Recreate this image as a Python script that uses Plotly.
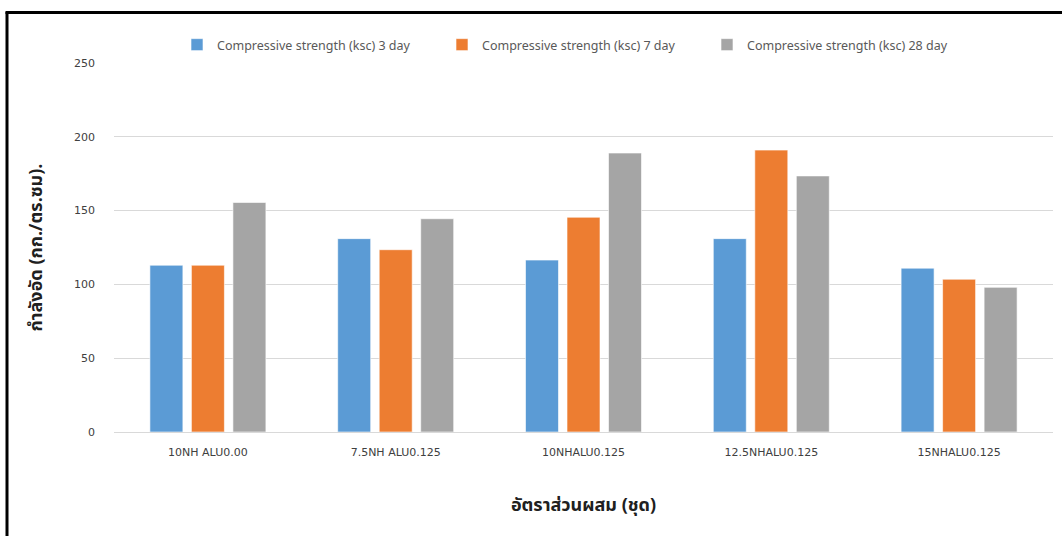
import plotly.graph_objects as go

# Mix designs (x categories)
mixes = ["10NH ALU0.00", "7.5NH ALU0.125", "10NHALU0.125", "12.5NHALU0.125", "15NHALU0.125"]

# Compressive strength (ksc) at each curing age
strength_3day = [113, 131, 116.5, 131, 111]
strength_7day = [113, 123.5, 145.5, 191, 103.5]
strength_28day = [155.5, 144.5, 189, 173.5, 98]

series_names = [
    "Compressive strength (ksc) 3 day",
    "Compressive strength (ksc) 7 day",
    "Compressive strength (ksc) 28 day",
]
series_colors = ["#5B9BD5", "#ED7D31", "#A5A5A5"]

y_ticks = [0, 50, 100, 150, 200, 250]

W, H = 1062, 536
L, R, T, B = 114, 9, 63, 104
pw, ph = W - L - R, H - T - B


def px_to_paper_x(px):
    return (px - L) / pw


def px_to_paper_y(py):
    return (H - B - py) / ph


fig = go.Figure()
for name, vals, col in zip(series_names, [strength_3day, strength_7day, strength_28day], series_colors):
    fig.add_trace(go.Bar(
        x=mixes, y=vals, name=name,
        marker=dict(color=col, line=dict(color="rgba(255,255,255,0.6)", width=1)),
    ))

tick_font = dict(family="DejaVu Sans, Tahoma, sans-serif", size=11, color="#404040")
thai_font = "Tahoma, 'Noto Sans Thai', 'Loma', 'Garuda', 'DejaVu Sans', sans-serif"

fig.update_layout(
    width=W, height=H,
    margin=dict(l=L, r=R, t=T, b=B, pad=0),
    paper_bgcolor="white", plot_bgcolor="white",
    barmode="group", bargap=0.337, bargroupgap=0.205,
    showlegend=True,
    legend=dict(
        orientation="h", x=px_to_paper_x(177), xanchor="left",
        y=px_to_paper_y(45), yanchor="middle",
        font=dict(family="Noto Sans, sans-serif", size=12.5, color="#595959"),
        entrywidth=220, entrywidthmode="pixels",
        itemwidth=30, traceorder="normal",
        bgcolor="rgba(0,0,0,0)",
    ),
    xaxis=dict(
        showgrid=False, showline=False, ticks="",
        tickfont=tick_font, ticklabelstandoff=12,
        title=dict(text="<b>อัตราส่วนผสม (ชุด)</b>",
                   font=dict(family=thai_font, size=18, color="#202020"),
                   standoff=40),
    ),
    yaxis=dict(
        range=[0, 250], tickvals=y_ticks, showgrid=True,
        gridcolor="#D9D9D9", gridwidth=1, zeroline=True,
        zerolinecolor="#D9D9D9", zerolinewidth=1, showline=False, ticks="",
        tickfont=tick_font, ticklabelstandoff=18,
        title=dict(text="<b>กำลังอัด (กก./ตร.ซม).</b>",
                   font=dict(family=thai_font, size=18, color="#202020"),
                   standoff=26),
    ),
    shapes=[
        # outer frame: left and top rules
        dict(type="line", xref="paper", yref="paper",
             x0=px_to_paper_x(7), x1=px_to_paper_x(7),
             y0=px_to_paper_y(12), y1=px_to_paper_y(540),
             line=dict(color="black", width=3)),
        dict(type="line", xref="paper", yref="paper",
             x0=px_to_paper_x(5.5), x1=px_to_paper_x(1064),
             y0=px_to_paper_y(12.5), y1=px_to_paper_y(12.5),
             line=dict(color="black", width=3)),
    ],
)

fig.write_html("out.html")
